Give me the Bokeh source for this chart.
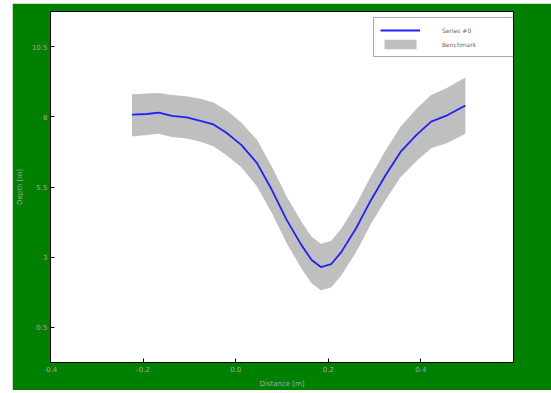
from bokeh.plotting import figure
from bokeh.models import FixedTicker, Legend, LegendItem, ColumnDataSource
from bokeh.embed import file_html
from bokeh.resources import INLINE

# ---- data ----
x_vals = [-0.224, -0.192, -0.166, -0.138, -0.106, -0.074, -0.048, -0.020, 0.012, 0.046,
          0.078, 0.110, 0.142, 0.164, 0.184, 0.206, 0.228, 0.260, 0.292, 0.324,
          0.356, 0.390, 0.422, 0.454, 0.496]
series0 = [8.08, 8.10, 8.15, 8.03, 7.98, 7.85, 7.73, 7.43, 7.00, 6.35,
           5.40, 4.33, 3.43, 2.90, 2.65, 2.75, 3.18, 4.03, 5.03, 5.93,
           6.75, 7.35, 7.83, 8.03, 8.40]
bench_upper = [8.80, 8.83, 8.85, 8.78, 8.73, 8.63, 8.51, 8.23, 7.80, 7.18,
               6.23, 5.16, 4.26, 3.73, 3.48, 3.58, 4.01, 4.88, 5.88, 6.81,
               7.65, 8.28, 8.78, 9.01, 9.40]
bench_lower = [7.30, 7.35, 7.40, 7.28, 7.23, 7.10, 6.95, 6.63, 6.20, 5.52,
               4.57, 3.50, 2.60, 2.07, 1.82, 1.92, 2.35, 3.18, 4.18, 5.05,
               5.85, 6.42, 6.88, 7.05, 7.40]
x_ticks = [-0.4, -0.2, 0.0, 0.2, 0.4]
x_tick_labels = ["-0.4", "-0.2", "0.0", "0.2", "0.4"]
y_ticks = [0.5, 3.0, 5.5, 8.0, 10.5]
y_tick_labels = ["0.5", "3", "5.5", "8", "10.5"]
line_label = "Series #0"
band_label = "Benchmark"
x_title = "Distance [m]"
y_title = "Depth [m]"

src = ColumnDataSource(dict(x=x_vals, y=series0, lo=bench_lower, hi=bench_upper))

p = figure(width=539, height=387, output_backend="svg", toolbar_location=None,
           x_range=(-0.4, 0.6), y_range=(-0.75, 11.75),
           min_border_left=36, min_border_right=38, min_border_top=8, min_border_bottom=28)
p.margin = (3, 0, 0, 12)
p.border_fill_color = "#008000"
p.background_fill_color = "white"
p.outline_line_color = "black"
p.outline_line_width = 1
p.grid.visible = False

band = p.varea(x="x", y1="lo", y2="hi", source=src, fill_color="#bfbfbf", fill_alpha=1.0)
line = p.line(x="x", y="y", source=src, line_color="#2020ff", line_width=1.8)

label_color = "#a8a8a8"
for ax in (p.xaxis[0], p.yaxis[0]):
    ax.major_tick_in = 4
    ax.major_tick_out = 0
    ax.minor_tick_in = 0
    ax.minor_tick_out = 0
    ax.axis_line_color = "black"
    ax.major_tick_line_color = "black"
    ax.major_label_text_color = label_color
    ax.major_label_text_font = "DejaVu Sans"
    ax.major_label_text_font_size = "7px"
    ax.axis_label_text_color = label_color
    ax.axis_label_text_font = "DejaVu Sans"
    ax.axis_label_text_font_size = "7px"
    ax.axis_label_text_font_style = "normal"
    ax.major_label_standoff = 3
    ax.axis_label_standoff = 5

p.xaxis.ticker = FixedTicker(ticks=x_ticks)
p.yaxis.ticker = FixedTicker(ticks=y_ticks)
p.xaxis.major_label_overrides = {t: l for t, l in zip(x_ticks, x_tick_labels)}
p.yaxis.major_label_overrides = {t: l for t, l in zip(y_ticks, y_tick_labels)}
p.xaxis.axis_label = x_title
p.yaxis.axis_label = y_title

legend = Legend(items=[LegendItem(label=line_label, renderers=[line]),
                       LegendItem(label=band_label, renderers=[band])],
                location=(323, 305))
legend.border_line_color = "#555555"
legend.border_line_width = 1
legend.background_fill_color = "white"
legend.background_fill_alpha = 1.0
legend.label_text_font = "DejaVu Sans"
legend.label_text_font_size = "6px"
legend.label_text_color = "#666666"
legend.glyph_width = 40
legend.glyph_height = 12
legend.label_standoff = 22
legend.label_width = 70
legend.label_height = 12
legend.padding = 6
legend.spacing = 2
legend.margin = 0
p.add_layout(legend, "center")

open("out.html", "w").write(file_html(p, INLINE))
